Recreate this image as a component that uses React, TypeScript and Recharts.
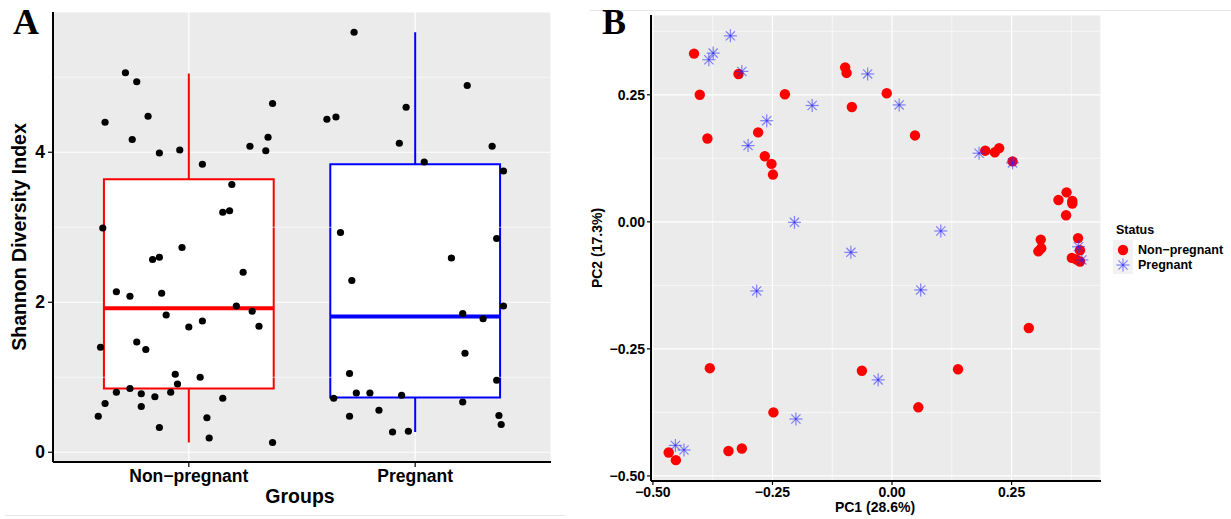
import {
  CartesianGrid,
  ComposedChart,
  ReferenceArea,
  ReferenceLine,
  Scatter,
  ScatterChart,
  XAxis,
  YAxis,
} from "recharts";

// Panel A: Shannon index per sample (jitter offset from group centre, value)
const groups = ["Non\u2212pregnant", "Pregnant"];
const nonPregJitter = [
  -0.28, -0.23, -0.37, -0.18, -0.25, -0.13, -0.04, 0.06, 0.27, 0.34, 0.35, 0.37,
  0.19, 0.15, 0.18, -0.38, -0.03, -0.16, -0.13, 0.24, -0.32, -0.26, -0.12, 0.21,
  0.28, -0.1, 0.0, 0.06, 0.31, -0.39, -0.23, -0.19, -0.06, 0.05, -0.05, -0.32,
  -0.26, -0.21, -0.15, -0.08, -0.37, -0.21, 0.15, -0.4, 0.08, -0.13, 0.09, 0.37,
];
const nonPregShannon = [
  5.06, 4.94, 4.4, 4.48, 4.17, 3.99, 4.03, 3.84, 4.08, 4.02, 4.2, 4.65,
  3.57, 3.2, 3.22, 2.99, 2.73, 2.57, 2.6, 2.4, 2.14, 2.08, 2.12, 1.95,
  1.88, 1.83, 1.67, 1.75, 1.68, 1.4, 1.47, 1.37, 1.04, 1.0, 0.91, 0.8,
  0.85, 0.78, 0.74, 0.8, 0.65, 0.61, 0.72, 0.48, 0.46, 0.33, 0.19, 0.13,
];
const pregJitter = [
  -0.27, 0.23, -0.04, -0.39, -0.35, -0.07, 0.34, 0.04, 0.39, -0.33, 0.36, 0.16,
  -0.28, 0.39, 0.21, 0.3, 0.22, -0.29, 0.36, -0.36, -0.26, -0.2, -0.06, 0.21,
  -0.29, -0.16, 0.37, 0.38, -0.1, -0.03,
];
const pregShannon = [
  5.6, 4.89, 4.6, 4.44, 4.47, 4.12, 4.08, 3.87, 3.75, 2.93, 2.85, 2.59,
  2.29, 1.95, 1.85, 1.78, 1.32, 1.05, 0.96, 0.72, 0.79, 0.79, 0.76, 0.67,
  0.48, 0.56, 0.49, 0.37, 0.27, 0.28,
];
const boxLow = [0.13, 0.27];
const boxQ1 = [0.85, 0.73];
const boxMedian = [1.92, 1.81];
const boxQ3 = [3.64, 3.84];
const boxHigh = [5.05, 5.6];
const boxColors = ["#ff0000", "#0000ff"];

// Panel B: PCoA coordinates
const nonPregPC1 = [
  -0.414, -0.402, -0.386, -0.321, -0.28, -0.266, -0.252, -0.249, -0.224, -0.098,
  -0.095, -0.084, -0.011, 0.048, 0.195, 0.215, 0.224, 0.252, 0.365, 0.348, 0.377,
  0.377, 0.364, 0.389, 0.311, 0.312, 0.306, 0.393, 0.376, 0.385, 0.393, 0.286,
  0.138, 0.055, -0.381, -0.063, -0.248, -0.314, -0.342, -0.467, -0.452,
];
const nonPregPC2 = [
  0.331, 0.25, 0.164, 0.291, 0.176, 0.129, 0.114, 0.093, 0.251, 0.304,
  0.293, 0.226, 0.253, 0.17, 0.14, 0.137, 0.145, 0.119, 0.058, 0.043, 0.041,
  0.036, 0.013, -0.032, -0.035, -0.052, -0.058, -0.056, -0.071, -0.074, -0.078, -0.209,
  -0.29, -0.365, -0.288, -0.293, -0.375, -0.446, -0.451, -0.454, -0.469,
];
const pregPC1 = [
  -0.338, -0.383, -0.374, -0.314, -0.262, -0.301, -0.167, -0.051, 0.015, -0.204,
  -0.086, 0.182, 0.252, 0.102, 0.39, 0.397, 0.06, -0.283, -0.029, -0.201, -0.453,
  -0.435,
];
const pregPC2 = [
  0.366, 0.319, 0.332, 0.296, 0.199, 0.15, 0.229, 0.291, 0.23, -0.001,
  -0.06, 0.135, 0.116, -0.018, -0.049, -0.075, -0.134, -0.136, -0.311, -0.388, -0.44,
  -0.449,
];
const pcTicks = [-0.5, -0.25, 0, 0.25];
const pcMinor = [-0.375, -0.125, 0.125, 0.375];

const sans = "'Liberation Sans', Arial, Helvetica, sans-serif";
const serif = "'Liberation Serif', 'Times New Roman', serif";

const jitterA = [
  ...nonPregJitter.map((j, i) => ({ x: 1 + j, y: nonPregShannon[i] })),
  ...pregJitter.map((j, i) => ({ x: 2 + j, y: pregShannon[i] })),
];
const pcaNonPreg = nonPregPC1.map((x, i) => ({ x, y: nonPregPC2[i] }));
const pcaPreg = pregPC1.map((x, i) => ({ x, y: pregPC2[i] }));

const fmtPc = (v: number) => (v < 0 ? "\u2212" : "") + Math.abs(v).toFixed(2);

function Star({ cx, cy, r = 6.5, color = "rgba(40,40,255,0.55)" }: any) {
  const d = r * 0.707;
  return (
    <g stroke={color} strokeWidth={1.2}>
      <line x1={cx - r} y1={cy} x2={cx + r} y2={cy} />
      <line x1={cx} y1={cy - r} x2={cx} y2={cy + r} />
      <line x1={cx - d} y1={cy - d} x2={cx + d} y2={cy + d} />
      <line x1={cx - d} y1={cy + d} x2={cx + d} y2={cy - d} />
    </g>
  );
}

function Txt({ x, y, size, children, rotate, family = sans, align = "center" }: any) {
  const tx = align === "center" ? "-50%" : "0";
  return (
    <div
      style={{
        position: "absolute",
        left: x,
        top: y,
        fontFamily: family,
        fontSize: size,
        fontWeight: 700,
        lineHeight: 1,
        whiteSpace: "nowrap",
        color: "#000",
        transform: `translate(${tx}, -50%)${rotate ? ` rotate(${rotate}deg)` : ""}`,
        transformOrigin: align === "center" ? "50% 50%" : "0 50%",
      }}
    >
      {children}
    </div>
  );
}

function PanelA() {
  const tick = { fill: "#000", fontSize: 17.5, fontWeight: 700, fontFamily: sans };
  return (
    <ComposedChart width={575} height={519} margin={{ top: 12, right: 24, bottom: 0, left: 8 }}>
      <CartesianGrid fill="#ebebeb" stroke="#ffffff" strokeWidth={1.2} />
      {[1, 3, 5].map((v) => (
        <ReferenceLine key={v} y={v} stroke="#ffffff" strokeWidth={0.6} />
      ))}
      <XAxis
        dataKey="x"
        type="number"
        domain={[0.4, 2.6]}
        ticks={[1, 2]}
        tickFormatter={(v) => groups[Math.round(v) - 1]}
        height={57}
        tick={tick}
        tickSize={5}
        tickMargin={3}
        stroke="#000"
        axisLine={{ stroke: "#000", strokeWidth: 2 }}
        tickLine={{ stroke: "#000", strokeWidth: 1.2 }}
        allowDataOverflow
      />
      <YAxis
        dataKey="y"
        type="number"
        domain={[-0.13, 5.87]}
        ticks={[0, 2, 4]}
        width={45}
        tick={tick}
        tickSize={5}
        tickMargin={3}
        axisLine={{ stroke: "#000", strokeWidth: 2 }}
        tickLine={{ stroke: "#000", strokeWidth: 1.2 }}
        allowDataOverflow
      />
      {groups.map((g, i) => (
        <ReferenceLine
          key={`wh-${g}`}
          segment={[
            { x: i + 1, y: boxQ3[i] },
            { x: i + 1, y: boxHigh[i] },
          ]}
          stroke={boxColors[i]}
          strokeWidth={2}
        />
      ))}
      {groups.map((g, i) => (
        <ReferenceLine
          key={`wl-${g}`}
          segment={[
            { x: i + 1, y: boxLow[i] },
            { x: i + 1, y: boxQ1[i] },
          ]}
          stroke={boxColors[i]}
          strokeWidth={2}
        />
      ))}
      {groups.map((g, i) => (
        <ReferenceArea
          key={`box-${g}`}
          x1={i + 1 - 0.375}
          x2={i + 1 + 0.375}
          y1={boxQ1[i]}
          y2={boxQ3[i]}
          fill="#ffffff"
          fillOpacity={1}
          stroke={boxColors[i]}
          strokeWidth={2}
          strokeOpacity={1}
        />
      ))}
      {groups.map((g, i) => (
        <ReferenceLine
          key={`med-${g}`}
          segment={[
            { x: i + 1 - 0.375, y: boxMedian[i] },
            { x: i + 1 + 0.375, y: boxMedian[i] },
          ]}
          stroke={boxColors[i]}
          strokeWidth={4}
        />
      ))}
      <Scatter
        data={jitterA}
        isAnimationActive={false}
        shape={(p: any) => <circle cx={p.cx} cy={p.cy} r={3.6} fill="#000" />}
      />
    </ComposedChart>
  );
}

function PanelB() {
  const tick = { fill: "#000", fontSize: 14, fontWeight: 700, fontFamily: sans };
  return (
    <ScatterChart width={641} height={519} margin={{ top: 15, right: 130, bottom: 0, left: 14 }}>
      <CartesianGrid fill="#ebebeb" stroke="#ffffff" strokeWidth={1.2} />
      {pcMinor.map((v) => (
        <ReferenceLine key={`mx${v}`} x={v} stroke="#ffffff" strokeWidth={0.6} />
      ))}
      {pcMinor.map((v) => (
        <ReferenceLine key={`my${v}`} y={v} stroke="#ffffff" strokeWidth={0.6} />
      ))}
      <XAxis
        dataKey="x"
        type="number"
        domain={[-0.504, 0.437]}
        ticks={pcTicks}
        tickFormatter={fmtPc}
        height={38}
        tick={tick}
        tickSize={4}
        tickMargin={2}
        axisLine={{ stroke: "#000", strokeWidth: 2 }}
        tickLine={{ stroke: "#000", strokeWidth: 1.2 }}
        allowDataOverflow
      />
      <YAxis
        dataKey="y"
        type="number"
        domain={[-0.51, 0.407]}
        ticks={pcTicks}
        tickFormatter={fmtPc}
        width={47}
        tick={tick}
        tickSize={4}
        tickMargin={2}
        axisLine={{ stroke: "#000", strokeWidth: 2 }}
        tickLine={{ stroke: "#000", strokeWidth: 1.2 }}
        allowDataOverflow
      />
      <Scatter
        data={pcaNonPreg}
        isAnimationActive={false}
        shape={(p: any) => <circle cx={p.cx} cy={p.cy} r={5.2} fill="#ff0000" />}
      />
      <Scatter
        data={pcaPreg}
        isAnimationActive={false}
        shape={(p: any) => <Star cx={p.cx} cy={p.cy} />}
      />
    </ScatterChart>
  );
}

export default function App() {
  return (
    <div
      style={{
        position: "absolute",
        left: 0,
        top: 0,
        width: 1231,
        height: 519,
        background: "#fff",
        overflow: "hidden",
      }}
    >
      <div style={{ position: "absolute", left: 590, top: 10, width: 641, height: 1, background: "#e6e6e6" }} />
      <div style={{ position: "absolute", left: 5, top: 515, width: 560, height: 1, background: "#e6e6e6" }} />
      <div style={{ position: "absolute", left: 0, top: 0 }}>
        <PanelA />
      </div>
      <div style={{ position: "absolute", left: 590, top: 0 }}>
        <PanelB />
      </div>
      <Txt x={13} y={22} size={36} family={serif} align="left">A</Txt>
      <Txt x={602} y={22} size={36} family={serif} align="left">B</Txt>
      <Txt x={20} y={237} size={19.5} rotate={-90}>Shannon Diversity Index</Txt>
      <Txt x={300} y={497} size={19.5}>Groups</Txt>
      <Txt x={875} y={507} size={14}>PC1 (28.6%)</Txt>
      <Txt x={597} y={248} size={14} rotate={-90}>PC2 (17.3%)</Txt>
      <Txt x={1116} y={230} size={12.5} align="left">Status</Txt>
      <svg style={{ position: "absolute", left: 1113, top: 240 }} width={20} height={34}>
        <rect x={0} y={0} width={20} height={34} fill="#f2f2f2" />
        <circle cx={10} cy={10} r={5.2} fill="#ff0000" />
        <Star cx={10} cy={25} />
      </svg>
      <Txt x={1138} y={250} size={12.5} align="left">Non{"\u2212"}pregnant</Txt>
      <Txt x={1138} y={265} size={12.5} align="left">Pregnant</Txt>
    </div>
  );
}
